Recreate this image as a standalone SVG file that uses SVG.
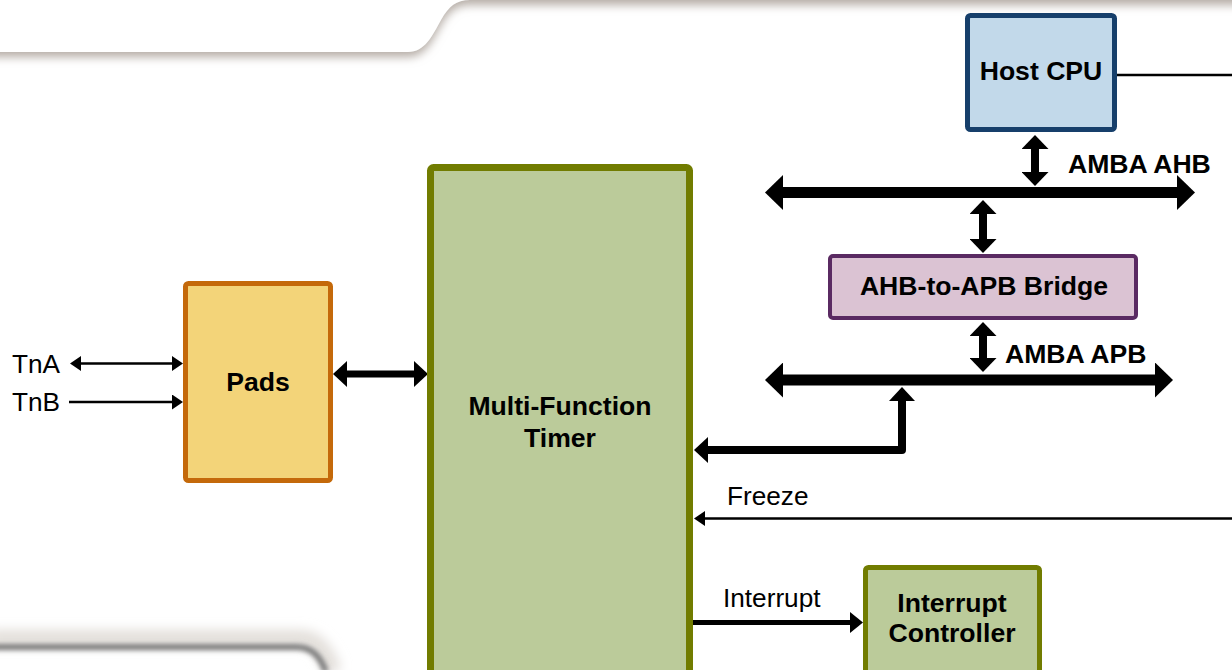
<svg xmlns="http://www.w3.org/2000/svg" width="1232" height="670" viewBox="0 0 1232 670">
<style>
.t{font-family:"Liberation Sans",Arial,sans-serif;fill:#000}
.b{font-weight:bold;font-size:26.6px}
.r{font-size:26.2px}
.ln{fill:none;stroke:#000;stroke-linecap:butt;stroke-linejoin:round}
</style>
<defs>
<filter id="sh" x="-10%" y="-50%" width="120%" height="300%">
<feGaussianBlur in="SourceAlpha" stdDeviation="5"/>
<feOffset dy="5" result="o"/>
<feFlood flood-color="#a89e96" flood-opacity="0.85"/>
<feComposite in2="o" operator="in"/>
<feMerge><feMergeNode/><feMergeNode in="SourceGraphic"/></feMerge>
</filter>
<filter id="bl" x="-10%" y="-200%" width="120%" height="500%"><feGaussianBlur stdDeviation="2.5"/></filter>
<filter id="bl2" x="-10%" y="-200%" width="120%" height="500%"><feGaussianBlur stdDeviation="6"/></filter>
<marker id="busH" markerUnits="userSpaceOnUse" viewBox="0 -17.5 18 35" refX="0" refY="0" markerWidth="18" markerHeight="35" orient="auto-start-reverse"><path d="M0,-17.5 L18,0 L0,17.5 Z" fill="#000"/></marker>
<marker id="vH" markerUnits="userSpaceOnUse" viewBox="0 -13.5 14 27" refX="0" refY="0" markerWidth="14" markerHeight="27" orient="auto-start-reverse"><path d="M0,-13.5 L14,0 L0,13.5 Z" fill="#000"/></marker>
<marker id="cH" markerUnits="userSpaceOnUse" viewBox="0 -13 14 26" refX="0" refY="0" markerWidth="14" markerHeight="26" orient="auto-start-reverse"><path d="M0,-13 L14,0 L0,13 Z" fill="#000"/></marker>
<marker id="iH" markerUnits="userSpaceOnUse" viewBox="0 -10.5 13 21" refX="0" refY="0" markerWidth="13" markerHeight="21" orient="auto-start-reverse"><path d="M0,-10.5 L13,0 L0,10.5 Z" fill="#000"/></marker>
<marker id="tH" markerUnits="userSpaceOnUse" viewBox="0 -7.5 11 15" refX="0" refY="0" markerWidth="11" markerHeight="15" orient="auto-start-reverse"><path d="M0,-7.5 L11,0 L0,7.5 Z" fill="#000"/></marker>
</defs>
<rect width="1232" height="670" fill="#fff"/>
<g id="background">
<path d="M-20,-30 L1260,-30 L1260,0 L470,0 C456,0 449,6 441,20 C432,36 425,52 408,52 L-20,52 Z" fill="#fff" filter="url(#sh)"/>
<path d="M-10,638 L300,638 C318,638 326,652 334,672" fill="none" stroke="#e2ded9" stroke-width="16" filter="url(#bl2)"/>
<path d="M-10,647 L296,647 C312,647 320,656 326,672" fill="none" stroke="#777" stroke-width="6" filter="url(#bl)"/>
</g>
<g id="connectors">
<path class="ln" d="M1117,75 H1232" stroke-width="2.5"/>
<path class="ln" d="M783,192.5 H1177" stroke-width="11" marker-start="url(#busH)" marker-end="url(#busH)"/>
<path class="ln" d="M783,380 H1155" stroke-width="11" marker-start="url(#busH)" marker-end="url(#busH)"/>
<path class="ln" d="M1035,149 V172" stroke-width="8" marker-start="url(#vH)" marker-end="url(#vH)"/>
<path class="ln" d="M983,214 V239" stroke-width="8" marker-start="url(#vH)" marker-end="url(#vH)"/>
<path class="ln" d="M983,336 V358" stroke-width="8" marker-start="url(#vH)" marker-end="url(#vH)"/>
<path class="ln" d="M708,450 H902 V401" stroke-width="8" marker-start="url(#cH)" marker-end="url(#cH)"/>
<path class="ln" d="M347,374 H414" stroke-width="7" marker-start="url(#cH)" marker-end="url(#cH)"/>
<path class="ln" d="M693,622.5 H850" stroke-width="5" marker-end="url(#iH)"/>
<path class="ln" d="M1232,518.5 H705" stroke-width="2.5" marker-end="url(#tH)"/>
<path class="ln" d="M81,363.5 H172" stroke-width="2.5" marker-start="url(#tH)" marker-end="url(#tH)"/>
<path class="ln" d="M69,402 H172" stroke-width="2.5" marker-end="url(#tH)"/>
</g>
<g id="host-cpu">
<rect x="967.5" y="15.5" width="147" height="114" rx="3" fill="#c2d9ea" stroke="#163f6b" stroke-width="5"/>
<text class="t b" x="1041" y="80" text-anchor="middle">Host CPU</text>
</g>
<g id="amba-labels">
<text class="t b" x="1068" y="173">AMBA AHB</text>
<text class="t b" x="1005" y="363">AMBA APB</text>
</g>
<g id="bridge">
<rect x="830" y="256" width="306" height="62" rx="3" fill="#dbc3d3" stroke="#5a2a62" stroke-width="4"/>
<text class="t b" x="984" y="295" text-anchor="middle">AHB-to-APB Bridge</text>
</g>
<g id="mft">
<rect x="430.5" y="167.5" width="259" height="530" rx="3" fill="#bbcb9a" stroke="#717c00" stroke-width="7"/>
<text class="t b" x="560" y="415" text-anchor="middle">Multi-Function</text>
<text class="t b" x="560" y="447" text-anchor="middle">Timer</text>
</g>
<g id="pads">
<rect x="185.5" y="283.5" width="145" height="197" rx="3" fill="#f3d479" stroke="#c4690a" stroke-width="5"/>
<text class="t b" x="258" y="391" text-anchor="middle">Pads</text>
</g>
<g id="interrupt-controller">
<rect x="865.5" y="567.5" width="174" height="130" rx="3" fill="#bbcb9a" stroke="#717c00" stroke-width="5"/>
<text class="t b" x="952" y="612" text-anchor="middle">Interrupt</text>
<text class="t b" x="952" y="642" text-anchor="middle">Controller</text>
</g>
<g id="labels">
<text class="t r" x="12" y="373">TnA</text>
<text class="t r" x="12" y="411">TnB</text>
<text class="t r" x="727" y="505">Freeze</text>
<text class="t r" x="723" y="607">Interrupt</text>
</g>
</svg>
